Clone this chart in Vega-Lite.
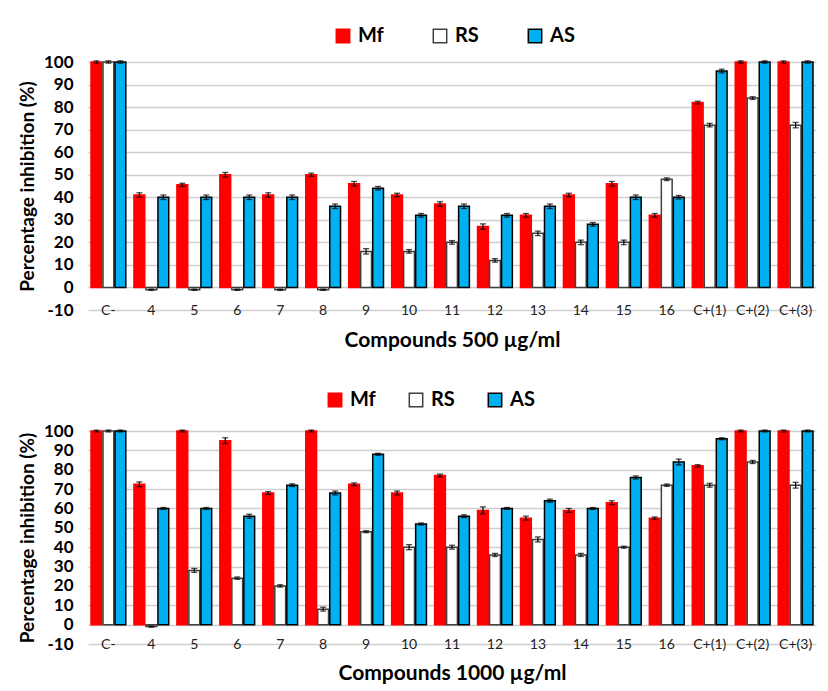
{
  "$schema": "https://vega.github.io/schema/vega-lite/v6.json",
  "padding": {"left": 18, "top": 26, "right": 8, "bottom": 4},
  "background": "white",
  "config": {
    "font": "Lato",
    "locale": {"number": {"decimal": ".", "thousands": ",", "grouping": [3], "currency": ["$", ""], "minus": "-"}},
    "view": {"stroke": null},
    "axisY": {
      "tickCount": 11, "labelOverlap": false,
      "labelFontSize": 17, "labelFontWeight": "bold", "labelColor": "black", "labelPadding": 15,
      "ticks": false, "domain": false, "grid": true, "gridColor": "#cfcfcf", "gridWidth": 1.5, "gridOpacity": 1,
      "titleFontSize": 19, "titleFontWeight": "bold", "titleColor": "black", "titlePadding": 6
    },
    "axisX": {
      "labelFontSize": 14, "labelColor": "#222222", "labelPadding": 0, "labelBaseline": "middle", "labelAngle": 0,
      "ticks": false, "domain": false, "grid": false,
      "titleFontSize": 21, "titleFontWeight": "bold", "titleColor": "black", "titlePadding": 12
    }
  },
  "data": {"values": [
    {"conc":"500","c":"C-","s":"Mf","v":100,"lo":99.5,"hi":100.5},
    {"conc":"500","c":"C-","s":"RS","v":100,"lo":99.5,"hi":100.5},
    {"conc":"500","c":"C-","s":"AS","v":100,"lo":99.5,"hi":100.5},
    {"conc":"500","c":"4","s":"Mf","v":41,"lo":40,"hi":42},
    {"conc":"500","c":"4","s":"RS","v":-1,"lo":-1.3,"hi":-0.7},
    {"conc":"500","c":"4","s":"AS","v":40,"lo":39,"hi":41},
    {"conc":"500","c":"5","s":"Mf","v":45.5,"lo":44.8,"hi":46.2},
    {"conc":"500","c":"5","s":"RS","v":-1,"lo":-1.3,"hi":-0.7},
    {"conc":"500","c":"5","s":"AS","v":40,"lo":39,"hi":41},
    {"conc":"500","c":"6","s":"Mf","v":50,"lo":49,"hi":51},
    {"conc":"500","c":"6","s":"RS","v":-1,"lo":-1.3,"hi":-0.7},
    {"conc":"500","c":"6","s":"AS","v":40,"lo":39,"hi":41},
    {"conc":"500","c":"7","s":"Mf","v":41,"lo":40,"hi":42},
    {"conc":"500","c":"7","s":"RS","v":-1,"lo":-1.3,"hi":-0.7},
    {"conc":"500","c":"7","s":"AS","v":40,"lo":39,"hi":41},
    {"conc":"500","c":"8","s":"Mf","v":50,"lo":49.3,"hi":50.7},
    {"conc":"500","c":"8","s":"RS","v":-1,"lo":-1.3,"hi":-0.7},
    {"conc":"500","c":"8","s":"AS","v":36,"lo":35,"hi":37},
    {"conc":"500","c":"9","s":"Mf","v":46,"lo":45,"hi":47},
    {"conc":"500","c":"9","s":"RS","v":16,"lo":14.8,"hi":17.2},
    {"conc":"500","c":"9","s":"AS","v":44,"lo":43.2,"hi":44.8},
    {"conc":"500","c":"10","s":"Mf","v":41,"lo":40.2,"hi":41.8},
    {"conc":"500","c":"10","s":"RS","v":16,"lo":15.2,"hi":16.8},
    {"conc":"500","c":"10","s":"AS","v":32,"lo":31.2,"hi":32.8},
    {"conc":"500","c":"11","s":"Mf","v":37,"lo":36,"hi":38},
    {"conc":"500","c":"11","s":"RS","v":20,"lo":19.2,"hi":20.8},
    {"conc":"500","c":"11","s":"AS","v":36,"lo":35,"hi":37},
    {"conc":"500","c":"12","s":"Mf","v":27,"lo":25.8,"hi":28.2},
    {"conc":"500","c":"12","s":"RS","v":12,"lo":11.2,"hi":12.8},
    {"conc":"500","c":"12","s":"AS","v":32,"lo":31.2,"hi":32.8},
    {"conc":"500","c":"13","s":"Mf","v":32,"lo":31.2,"hi":32.8},
    {"conc":"500","c":"13","s":"RS","v":24,"lo":23,"hi":25},
    {"conc":"500","c":"13","s":"AS","v":36,"lo":35,"hi":37},
    {"conc":"500","c":"14","s":"Mf","v":41,"lo":40.2,"hi":41.8},
    {"conc":"500","c":"14","s":"RS","v":20,"lo":19,"hi":21},
    {"conc":"500","c":"14","s":"AS","v":28,"lo":27.2,"hi":28.8},
    {"conc":"500","c":"15","s":"Mf","v":46,"lo":45,"hi":47},
    {"conc":"500","c":"15","s":"RS","v":20,"lo":19,"hi":21},
    {"conc":"500","c":"15","s":"AS","v":40,"lo":39,"hi":41},
    {"conc":"500","c":"16","s":"Mf","v":32,"lo":31.2,"hi":32.8},
    {"conc":"500","c":"16","s":"RS","v":48,"lo":47.4,"hi":48.6},
    {"conc":"500","c":"16","s":"AS","v":40,"lo":39.2,"hi":40.8},
    {"conc":"500","c":"C+(1)","s":"Mf","v":82,"lo":81.4,"hi":82.6},
    {"conc":"500","c":"C+(1)","s":"RS","v":72,"lo":71.2,"hi":72.8},
    {"conc":"500","c":"C+(1)","s":"AS","v":96,"lo":95.2,"hi":96.8},
    {"conc":"500","c":"C+(2)","s":"Mf","v":100,"lo":99.5,"hi":100.5},
    {"conc":"500","c":"C+(2)","s":"RS","v":84,"lo":83.4,"hi":84.6},
    {"conc":"500","c":"C+(2)","s":"AS","v":100,"lo":99.5,"hi":100.5},
    {"conc":"500","c":"C+(3)","s":"Mf","v":100,"lo":99.5,"hi":100.5},
    {"conc":"500","c":"C+(3)","s":"RS","v":72,"lo":70.8,"hi":73.2},
    {"conc":"500","c":"C+(3)","s":"AS","v":100,"lo":99.5,"hi":100.5},
    {"conc":"1000","c":"C-","s":"Mf","v":100,"lo":99.5,"hi":100.5},
    {"conc":"1000","c":"C-","s":"RS","v":100,"lo":99.5,"hi":100.5},
    {"conc":"1000","c":"C-","s":"AS","v":100,"lo":99.5,"hi":100.5},
    {"conc":"1000","c":"4","s":"Mf","v":72.5,"lo":71.3,"hi":73.7},
    {"conc":"1000","c":"4","s":"RS","v":-1,"lo":-1.3,"hi":-0.7},
    {"conc":"1000","c":"4","s":"AS","v":60,"lo":59.5,"hi":60.5},
    {"conc":"1000","c":"5","s":"Mf","v":100,"lo":99.5,"hi":100.5},
    {"conc":"1000","c":"5","s":"RS","v":28,"lo":27,"hi":29},
    {"conc":"1000","c":"5","s":"AS","v":60,"lo":59.5,"hi":60.5},
    {"conc":"1000","c":"6","s":"Mf","v":95,"lo":93.5,"hi":96.5},
    {"conc":"1000","c":"6","s":"RS","v":24,"lo":23.4,"hi":24.6},
    {"conc":"1000","c":"6","s":"AS","v":56,"lo":55,"hi":57},
    {"conc":"1000","c":"7","s":"Mf","v":68,"lo":67.3,"hi":68.7},
    {"conc":"1000","c":"7","s":"RS","v":20,"lo":19.4,"hi":20.6},
    {"conc":"1000","c":"7","s":"AS","v":72,"lo":71.3,"hi":72.7},
    {"conc":"1000","c":"8","s":"Mf","v":100,"lo":99.5,"hi":100.5},
    {"conc":"1000","c":"8","s":"RS","v":8,"lo":7,"hi":9},
    {"conc":"1000","c":"8","s":"AS","v":68,"lo":67,"hi":69},
    {"conc":"1000","c":"9","s":"Mf","v":72.5,"lo":71.8,"hi":73.2},
    {"conc":"1000","c":"9","s":"RS","v":48,"lo":47.5,"hi":48.5},
    {"conc":"1000","c":"9","s":"AS","v":88,"lo":87.5,"hi":88.5},
    {"conc":"1000","c":"10","s":"Mf","v":68,"lo":67,"hi":69},
    {"conc":"1000","c":"10","s":"RS","v":40,"lo":38.7,"hi":41.3},
    {"conc":"1000","c":"10","s":"AS","v":52,"lo":51.5,"hi":52.5},
    {"conc":"1000","c":"11","s":"Mf","v":77,"lo":76.3,"hi":77.7},
    {"conc":"1000","c":"11","s":"RS","v":40,"lo":39,"hi":41},
    {"conc":"1000","c":"11","s":"AS","v":56,"lo":55.3,"hi":56.7},
    {"conc":"1000","c":"12","s":"Mf","v":59,"lo":57.2,"hi":60.8},
    {"conc":"1000","c":"12","s":"RS","v":36,"lo":35.2,"hi":36.8},
    {"conc":"1000","c":"12","s":"AS","v":60,"lo":59.5,"hi":60.5},
    {"conc":"1000","c":"13","s":"Mf","v":55,"lo":54,"hi":56},
    {"conc":"1000","c":"13","s":"RS","v":44,"lo":42.7,"hi":45.3},
    {"conc":"1000","c":"13","s":"AS","v":64,"lo":63.2,"hi":64.8},
    {"conc":"1000","c":"14","s":"Mf","v":59,"lo":58,"hi":60},
    {"conc":"1000","c":"14","s":"RS","v":36,"lo":35.2,"hi":36.8},
    {"conc":"1000","c":"14","s":"AS","v":60,"lo":59.5,"hi":60.5},
    {"conc":"1000","c":"15","s":"Mf","v":63,"lo":62,"hi":64},
    {"conc":"1000","c":"15","s":"RS","v":40,"lo":39.5,"hi":40.5},
    {"conc":"1000","c":"15","s":"AS","v":76,"lo":75.2,"hi":76.8},
    {"conc":"1000","c":"16","s":"Mf","v":55,"lo":54.4,"hi":55.6},
    {"conc":"1000","c":"16","s":"RS","v":72,"lo":71.4,"hi":72.6},
    {"conc":"1000","c":"16","s":"AS","v":84,"lo":82.5,"hi":85.5},
    {"conc":"1000","c":"C+(1)","s":"Mf","v":82,"lo":81.4,"hi":82.6},
    {"conc":"1000","c":"C+(1)","s":"RS","v":72,"lo":71,"hi":73},
    {"conc":"1000","c":"C+(1)","s":"AS","v":96,"lo":95.5,"hi":96.5},
    {"conc":"1000","c":"C+(2)","s":"Mf","v":100,"lo":99.5,"hi":100.5},
    {"conc":"1000","c":"C+(2)","s":"RS","v":84,"lo":83.2,"hi":84.8},
    {"conc":"1000","c":"C+(2)","s":"AS","v":100,"lo":99.5,"hi":100.5},
    {"conc":"1000","c":"C+(3)","s":"Mf","v":100,"lo":99.5,"hi":100.5},
    {"conc":"1000","c":"C+(3)","s":"RS","v":72,"lo":70.5,"hi":73.5},
    {"conc":"1000","c":"C+(3)","s":"AS","v":100,"lo":99.5,"hi":100.5}
  ]},
  "resolve": {"legend": {"color": "independent", "stroke": "independent"}},
  "spacing": 40,
  "vconcat": [
    {
      "width": 728, "height": 248,
      "transform": [{"filter": "datum.conc == '500'"}],
      "encoding": {
        "x": {"field": "c", "type": "nominal",
              "sort": ["C-","4","5","6","7","8","9","10","11","12","13","14","15","16","C+(1)","C+(2)","C+(3)"],
              "scale": {"paddingInner": 0.19, "paddingOuter": 0.07},
              "axis": {"title": "Compounds 500 µg/ml"}},
        "xOffset": {"field": "s", "type": "nominal", "sort": ["Mf","RS","AS"], "scale": {"paddingInner": 0.1}}
      },
      "layer": [
        {
          "mark": {"type": "bar", "strokeWidth": 1.5},
          "encoding": {
            "y": {"field": "v", "type": "quantitative", "scale": {"domain": [-10, 100], "nice": false}, "title": "Percentage inhibition (%)", "stack": null},
            "color": {"field": "s", "type": "nominal", "sort": ["Mf","RS","AS"],
                      "scale": {"domain": ["Mf","RS","AS"], "range": ["#FF0000","#FFFFFF","#00B0F0"]},
                      "legend": {"orient": "none", "legendX": 245, "legendY": -36, "direction": "horizontal", "title": null,
                                 "symbolType": "square", "symbolSize": 180, "symbolStrokeWidth": 1.5,
                                 "labelFontSize": 20, "labelFontWeight": "bold", "labelColor": "black", "labelOffset": 5, "columnPadding": 46}},
            "stroke": {"field": "s", "type": "nominal", "sort": ["Mf","RS","AS"],
                       "scale": {"domain": ["Mf","RS","AS"], "range": ["#FF0000","#404040","#000000"]},
                       "legend": {"orient": "none", "legendX": 245, "legendY": -36, "direction": "horizontal", "title": null,
                                  "symbolType": "square", "symbolSize": 180, "symbolStrokeWidth": 1.5,
                                  "labelFontSize": 20, "labelFontWeight": "bold", "labelColor": "black", "labelOffset": 5, "columnPadding": 46}}
          }
        },
        {
          "mark": {"type": "rule", "color": "black", "strokeWidth": 1.2},
          "encoding": {"y": {"field": "lo", "type": "quantitative", "title": "Percentage inhibition (%)"}, "y2": {"field": "hi"}}
        },
        {
          "mark": {"type": "tick", "color": "black", "size": 6, "thickness": 1.3},
          "encoding": {"y": {"field": "lo", "type": "quantitative", "title": "Percentage inhibition (%)"}}
        },
        {
          "mark": {"type": "tick", "color": "black", "size": 6, "thickness": 1.3},
          "encoding": {"y": {"field": "hi", "type": "quantitative", "title": "Percentage inhibition (%)"}}
        }
      ]
    },
    {
      "width": 728, "height": 213,
      "transform": [{"filter": "datum.conc == '1000'"}],
      "encoding": {
        "x": {"field": "c", "type": "nominal",
              "sort": ["C-","4","5","6","7","8","9","10","11","12","13","14","15","16","C+(1)","C+(2)","C+(3)"],
              "scale": {"paddingInner": 0.19, "paddingOuter": 0.07},
              "axis": {"title": "Compounds 1000 µg/ml", "titlePadding": 11}},
        "xOffset": {"field": "s", "type": "nominal", "sort": ["Mf","RS","AS"], "scale": {"paddingInner": 0.1}}
      },
      "layer": [
        {
          "mark": {"type": "bar", "strokeWidth": 1.5},
          "encoding": {
            "y": {"field": "v", "type": "quantitative", "scale": {"domain": [-10, 100], "nice": false}, "title": "Percentage inhibition (%)", "stack": null},
            "color": {"field": "s", "type": "nominal", "sort": ["Mf","RS","AS"],
                      "scale": {"domain": ["Mf","RS","AS"], "range": ["#FF0000","#FFFFFF","#00B0F0"]},
                      "legend": {"orient": "none", "legendX": 237, "legendY": -41, "direction": "horizontal", "title": null,
                                 "symbolType": "square", "symbolSize": 180, "symbolStrokeWidth": 1.5,
                                 "labelFontSize": 20, "labelFontWeight": "bold", "labelColor": "black", "labelOffset": 5, "columnPadding": 30}},
            "stroke": {"field": "s", "type": "nominal", "sort": ["Mf","RS","AS"],
                       "scale": {"domain": ["Mf","RS","AS"], "range": ["#FF0000","#404040","#000000"]},
                       "legend": {"orient": "none", "legendX": 237, "legendY": -41, "direction": "horizontal", "title": null,
                                  "symbolType": "square", "symbolSize": 180, "symbolStrokeWidth": 1.5,
                                  "labelFontSize": 20, "labelFontWeight": "bold", "labelColor": "black", "labelOffset": 5, "columnPadding": 30}}
          }
        },
        {
          "mark": {"type": "rule", "color": "black", "strokeWidth": 1.2},
          "encoding": {"y": {"field": "lo", "type": "quantitative", "title": "Percentage inhibition (%)"}, "y2": {"field": "hi"}}
        },
        {
          "mark": {"type": "tick", "color": "black", "size": 6, "thickness": 1.3},
          "encoding": {"y": {"field": "lo", "type": "quantitative", "title": "Percentage inhibition (%)"}}
        },
        {
          "mark": {"type": "tick", "color": "black", "size": 6, "thickness": 1.3},
          "encoding": {"y": {"field": "hi", "type": "quantitative", "title": "Percentage inhibition (%)"}}
        }
      ]
    }
  ]
}
